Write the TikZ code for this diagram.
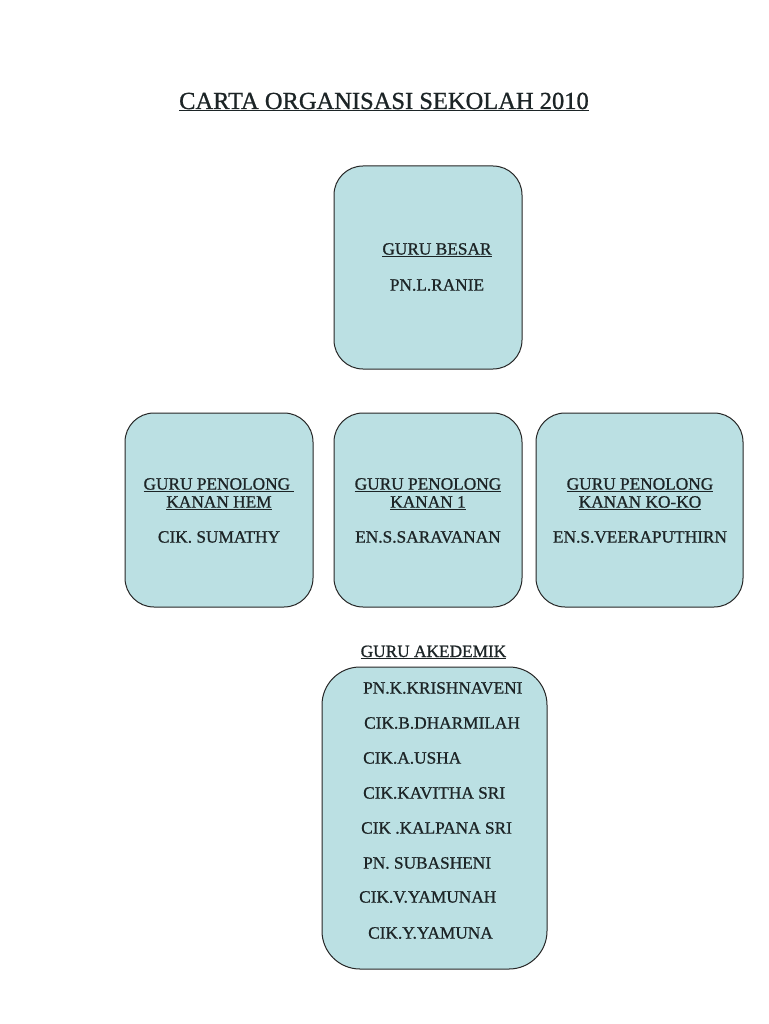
\documentclass[tikz,border=0pt]{standalone}
\usepackage{fontspec}
\setmainfont{Liberation Serif}[FakeBold=0.9]
\usetikzlibrary{positioning}
\definecolor{boxblue}{HTML}{BBE0E3}
\definecolor{inkdark}{HTML}{1C2426}
\def\ul#1{\underline{#1}}
\def\boxfont{\fontsize{17.3}{18}\selectfont}

\begin{document}
\begin{tikzpicture}[x=1pt,y=-1pt,
    post/.style={draw=black!85,line width=1pt,fill=boxblue,rounded corners=29pt,
      minimum width=188pt,minimum height=194pt,inner sep=0pt},
    lbl/.style={text=inkdark,font=\boxfont,align=center,inner sep=0pt},
    staff/.style={text=inkdark,font=\boxfont,anchor=west,inner sep=0pt}]
    \fill[white] (0,0) rectangle (768,1024);
    % title
    \node[text=inkdark,anchor=base,inner sep=0pt] (title) at (384,109)
      {\fontsize{24.5}{26}\selectfont\ul{CARTA ORGANISASI SEKOLAH 2010}};
    % head
    \node[post,minimum height=203pt] (gb) at (428,267.5) {};
    \node[lbl] (gbtxt) at (437,267) {\ul{GURU BESAR}\\[18pt]PN.L.RANIE};
    % penolong kanan
    \node[post] (hem) at (219,510) {};
    \node[lbl] (hemtxt) at (219,510.5) {\ul{GURU PENOLONG }\\\ul{KANAN HEM}\\[17pt]CIK. SUMATHY};
    \node[post] (kanan) at (428,510) {};
    \node[lbl] (kanantxt) at (428,510.5) {\ul{GURU PENOLONG}\\\ul{KANAN 1}\\[17pt]EN.S.SARAVANAN};
    \node[post,minimum width=207pt] (koko) at (639.5,510) {};
    \node[lbl] (kokotxt) at (640,510.5) {\ul{GURU PENOLONG}\\\ul{KANAN KO-KO}\\[17pt]EN.S.VEERAPUTHIRN};
    % akademik
    \node[lbl,anchor=base] (akadtxt) at (433.5,657) {\ul{GURU AKEDEMIK}};
    \node[post,rounded corners=38pt,minimum width=225pt,minimum height=302pt] (akad) at (434.5,818) {};
    \node[staff] (s1) at (363,688) {PN.K.KRISHNAVENI};
    \node[staff] (s2) at (364,723) {CIK.B.DHARMILAH};
    \node[staff] (s3) at (363,758) {CIK.A.USHA};
    \node[staff] (s4) at (363,793) {CIK.KAVITHA SRI};
    \node[staff] (s5) at (361,828) {CIK .KALPANA SRI};
    \node[staff] (s6) at (363,863) {PN. SUBASHENI};
    \node[staff] (s7) at (359,897) {CIK.V.YAMUNAH};
    \node[staff] (s8) at (368,933) {CIK.Y.YAMUNA};
\end{tikzpicture}
\end{document}
